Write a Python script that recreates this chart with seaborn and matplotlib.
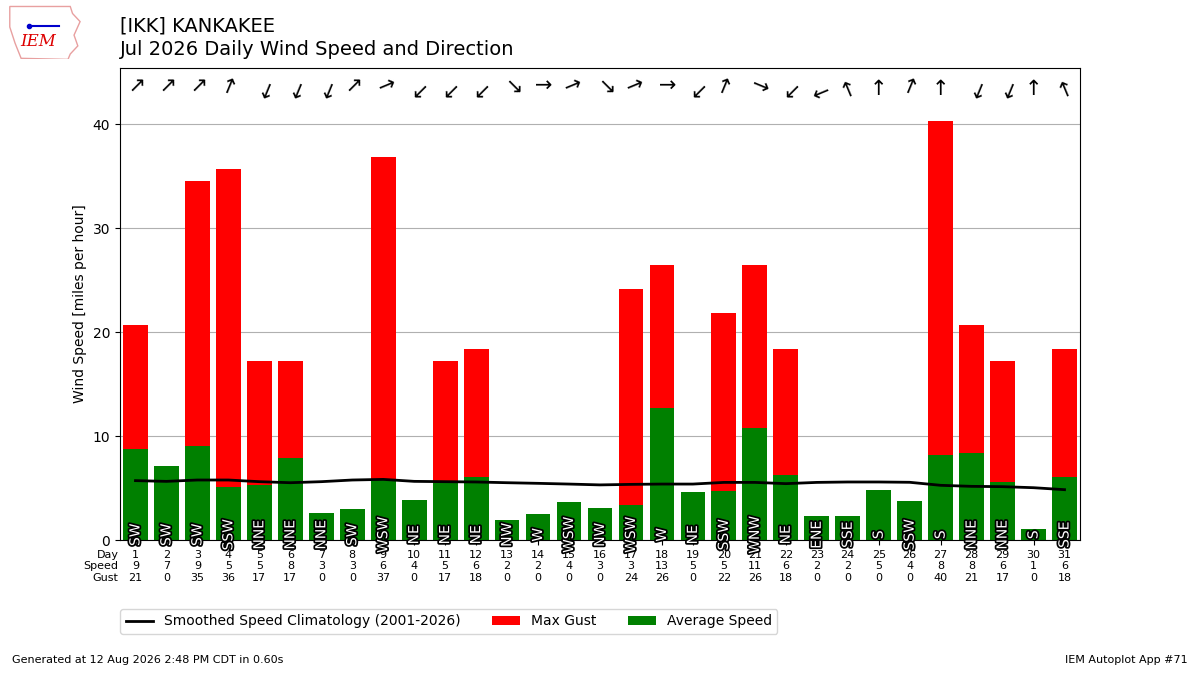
import math
import matplotlib
matplotlib.use("Agg")
import matplotlib.pyplot as plt
import matplotlib.patheffects as pe
from matplotlib.patches import Patch, Polygon
from matplotlib.lines import Line2D
from matplotlib.textpath import TextPath
from matplotlib.font_manager import FontProperties
import seaborn as sns
import pandas as pd

days = list(range(1, 32))
avg_speed = [8.72, 7.12, 9.07, 5.06, 5.29, 7.92, 2.60, 2.98, 5.80, 3.85,
             5.45, 6.03, 1.92, 2.46, 3.65, 3.08, 3.33, 12.69, 4.62, 4.71,
             10.80, 6.25, 2.31, 2.31, 4.81, 3.75, 8.17, 8.36, 5.61, 1.06, 6.06]
max_gust = [20.71, 0, 34.52, 35.67, 17.26, 17.26, 0, 0, 36.83, 0,
            17.26, 18.41, 0, 0, 0, 0, 24.17, 26.47, 0, 21.86,
            26.47, 18.41, 0, 0, 0, 0, 40.28, 20.71, 17.26, 0, 18.41]
clim_speed = [5.71, 5.64, 5.77, 5.77, 5.61, 5.51, 5.61, 5.77, 5.83, 5.64,
              5.61, 5.58, 5.51, 5.45, 5.38, 5.30, 5.35, 5.38, 5.38, 5.54,
              5.54, 5.42, 5.54, 5.58, 5.58, 5.55, 5.26, 5.16, 5.13, 5.03, 4.84]
wind_dir = ["SW", "SW", "SW", "SSW", "NNE", "NNE", "NNE", "SW", "WSW", "NE",
            "NE", "NE", "NW", "W", "WSW", "NW", "WSW", "W", "NE", "SSW",
            "WNW", "NE", "ENE", "SSE", "S", "SSW", "S", "NNE", "NNE", "S", "SSE"]
compass = ["N", "NNE", "NE", "ENE", "E", "ESE", "SE", "SSE",
           "S", "SSW", "SW", "WSW", "W", "WNW", "NW", "NNW"]

df = pd.DataFrame({"day": days, "speed": avg_speed, "gust": max_gust,
                   "clim": clim_speed, "dir": wind_dir})

fig = plt.figure(figsize=(12, 6.75), dpi=100)
ax = fig.add_axes([0.1, 0.2, 0.8, 0.6993])
ax.set_axisbelow(True)

sns.barplot(data=df, x="day", y="gust", native_scale=True, width=0.8,
            color="red", saturation=1, linewidth=0, ax=ax, errorbar=None)
sns.barplot(data=df, x="day", y="speed", native_scale=True, width=0.8,
            color="green", saturation=1, linewidth=0, ax=ax, errorbar=None)
sns.lineplot(data=df, x="day", y="clim", color="black", linewidth=2,
             ax=ax, zorder=5)

ax.set_xlim(0.5, 31.5)
ax.set_ylim(0, 45.4)
ax.set_yticks([0, 10, 20, 30, 40])
ax.grid(axis="y", color="#b0b0b0", linewidth=0.8)
ax.set_ylabel("Wind Speed [miles per hour]", fontsize=10)
ax.set_xlabel("")

labels = [f"{d}\n{int(s + 0.5)}\n{int(g + 0.5)}" for d, s, g in zip(days, avg_speed, max_gust)]
ax.set_xticks(days)
ax.set_xticklabels(labels, fontsize=8)
ax.annotate("Day\nSpeed\nGust", xy=(0, 0), xycoords="axes fraction",
            xytext=(-1, -7), textcoords="offset points", ha="right", va="top",
            fontsize=8, multialignment="right")

# glyph centre of the arrow relative to its baseline-left origin (points)
arrow_size = 15
tp = TextPath((0, 0), "\u2191", size=arrow_size, prop=FontProperties(family="DejaVu Sans"))
ext = tp.get_extents()
gcx = (ext.x0 + ext.x1) / 2
gcy = (ext.y0 + ext.y1) / 2

for d, lab in zip(days, wind_dir):
    ax.text(d, 0.5, lab, rotation=90, ha="center", va="center", fontsize=10,
            color="white", zorder=6,
            path_effects=[pe.withStroke(linewidth=2.5, foreground="black")])
    bearing = compass.index(lab) * 22.5
    rot = -(bearing + 180)
    r = math.radians(rot)
    ox = gcx * math.cos(r) - gcy * math.sin(r)
    oy = gcx * math.sin(r) + gcy * math.cos(r)
    ax.annotate("\u2191", xy=(d, 43.5), xycoords="data",
                xytext=(-ox, -oy), textcoords="offset points",
                rotation=rot, rotation_mode="anchor", ha="left", va="baseline",
                fontsize=arrow_size, color="black", zorder=6,
                annotation_clip=False)

handles = [Line2D([0], [0], color="black", linewidth=2),
           Patch(facecolor="red"), Patch(facecolor="green")]
names = ["Smoothed Speed Climatology (2001-2026)", "Max Gust", "Average Speed"]
ax.legend(handles, names, loc="upper left", bbox_to_anchor=(0, -0.146),
          ncol=3, borderaxespad=0, fontsize=10, columnspacing=2.25)

fig.text(0.1, 0.976, "[IKK] KANKAKEE\nJul 2026 Daily Wind Speed and Direction",
         ha="left", va="top", fontsize=14, linespacing=1.3)
fig.text(0.01, 0.015, "Generated at 12 Aug 2026 2:48 PM CDT in 0.60s",
         ha="left", va="bottom", fontsize=8)
fig.text(0.99, 0.015, "IEM Autoplot App #71", ha="right", va="bottom", fontsize=8)

# simple IEM logo approximation
lax = fig.add_axes([0.005, 0.912, 0.063, 0.08])
lax.set_xlim(0, 1)
lax.set_ylim(0, 1)
lax.axis("off")
lax.add_patch(Polygon([[0.05, 0.98], [0.85, 0.98], [0.88, 0.85], [0.98, 0.7],
                       [0.9, 0.45], [0.95, 0.25], [0.85, 0.1], [0.82, 0.0],
                       [0.2, 0.02], [0.12, 0.3], [0.05, 0.6]],
                      closed=True, fill=False, edgecolor="#e8a0a0", linewidth=1))
lax.plot([0.3, 0.7], [0.62, 0.62], color="#0000cc", linewidth=1.5)
lax.plot([0.3], [0.62], "o", color="#0000cc", markersize=3)
lax.text(0.42, 0.18, "IEM", color="#dd0000", fontsize=12, style="italic",
         family="DejaVu Serif", ha="center", va="bottom")

fig.savefig("out.png", dpi=100)
